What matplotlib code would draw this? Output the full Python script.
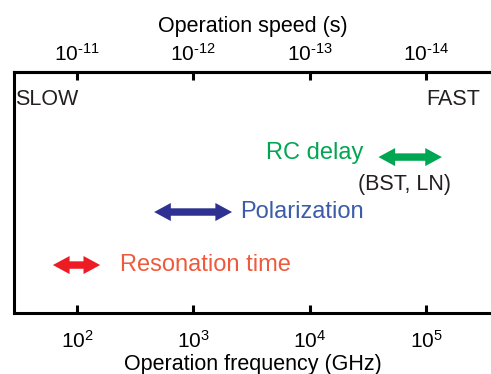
import numpy as np
import matplotlib.pyplot as plt
from matplotlib.patches import FancyArrowPatch

plt.rcParams['font.family'] = ['Liberation Sans', 'DejaVu Sans']
plt.rcParams['mathtext.fontset'] = 'custom'
plt.rcParams['mathtext.rm'] = 'Liberation Sans'
plt.rcParams['mathtext.it'] = 'Liberation Sans'

# frequency ranges (GHz) of each mechanism
mechanisms = ['Resonation time', 'Polarization', 'RC delay']
freq_low = [62, 460, 3.9e4]
freq_high = [158, 2150, 1.37e5]

freq_ticks = [1e2, 1e3, 1e4, 1e5]
freq_labels = [r'$\mathregular{10^{2}}$', r'$\mathregular{10^{3}}$',
               r'$\mathregular{10^{4}}$', r'$\mathregular{10^{5}}$']
speed_ticks = [1e-11, 1e-12, 1e-13, 1e-14]
speed_labels = ['$\\mathregular{10^{\u201011}}$', '$\\mathregular{10^{\u201012}}$',
                '$\\mathregular{10^{\u201013}}$', '$\\mathregular{10^{\u201014}}$']

# layout
levels = [0.199, 0.419, 0.647]
arrow_colors = ['#ed1c24', '#2e3192', '#00a651']
text_colors = ['#f05a3c', '#3b5ca8', '#00a651']

fig = plt.figure(figsize=(4.91, 3.74), dpi=100)
ax = fig.add_axes([14 / 491, 1 - 313 / 374, 1 - 14 / 491, 241 / 374])
ax.set_xscale('log')
ax.set_xlim(28.7, 3.62e5)
ax.set_ylim(0, 1)
ax.set_yticks([])
ax.spines['right'].set_visible(False)
for s in ['left', 'top', 'bottom']:
    ax.spines[s].set_linewidth(2.2)

ax.set_xticks(freq_ticks)
ax.set_xticklabels(freq_labels)
ax.minorticks_off()
ax.tick_params(axis='x', direction='in', length=6, width=2.2, labelsize=15, pad=12)
ax.set_xlabel('Operation frequency (GHz)', fontsize=15.5, labelpad=2)

top = ax.secondary_xaxis('top', functions=(lambda f: 1e-9 / f, lambda s: 1e-9 / s))
top.set_xticks(speed_ticks)
top.set_xticklabels(speed_labels)
top.minorticks_off()
top.spines['top'].set_linewidth(2.2)
top.tick_params(axis='x', direction='in', length=6, width=2.2, labelsize=15, pad=5)
top.set_xlabel('Operation speed (s)', fontsize=15.5, labelpad=8)

# double-headed arrows: two overlapping filled "simple" arrows, one each way
head_len = 12
style = f'simple,head_length={head_len},head_width=13,tail_width=5'
for lo, hi, y, c in zip(freq_low, freq_high, levels, arrow_colors):
    for a, b in ((lo, hi), (hi, lo)):
        ax.add_patch(FancyArrowPatch((a, y), (b, y), arrowstyle=style,
                                     mutation_scale=1, lw=0, color=c,
                                     shrinkA=head_len - 1, shrinkB=0))

# labels next to arrows
ax.annotate(mechanisms[0], (freq_high[0], levels[0]), xytext=(14, 0),
            textcoords='offset points', ha='left', va='center',
            fontsize=17, color=text_colors[0])
ax.annotate(mechanisms[1], (freq_high[1], levels[1]), xytext=(6, 0),
            textcoords='offset points', ha='left', va='center',
            fontsize=17, color=text_colors[1])
ax.annotate(mechanisms[2], (freq_low[2], levels[2]), xytext=(-11, 3),
            textcoords='offset points', ha='right', va='center',
            fontsize=17, color=text_colors[2])
ax.annotate('(BST, LN)', (np.sqrt(freq_low[2] * freq_high[2]), levels[2]), xytext=(-4, -20),
            textcoords='offset points', ha='center', va='center',
            fontsize=15.5, color='#231f20')

ax.text(0.003, 0.885, 'SLOW', transform=ax.transAxes, ha='left', va='center',
        fontsize=15.5, color='#231f20')
ax.text(0.977, 0.885, 'FAST', transform=ax.transAxes, ha='right', va='center',
        fontsize=15.5, color='#231f20')

fig.savefig('out.png', dpi=100)
